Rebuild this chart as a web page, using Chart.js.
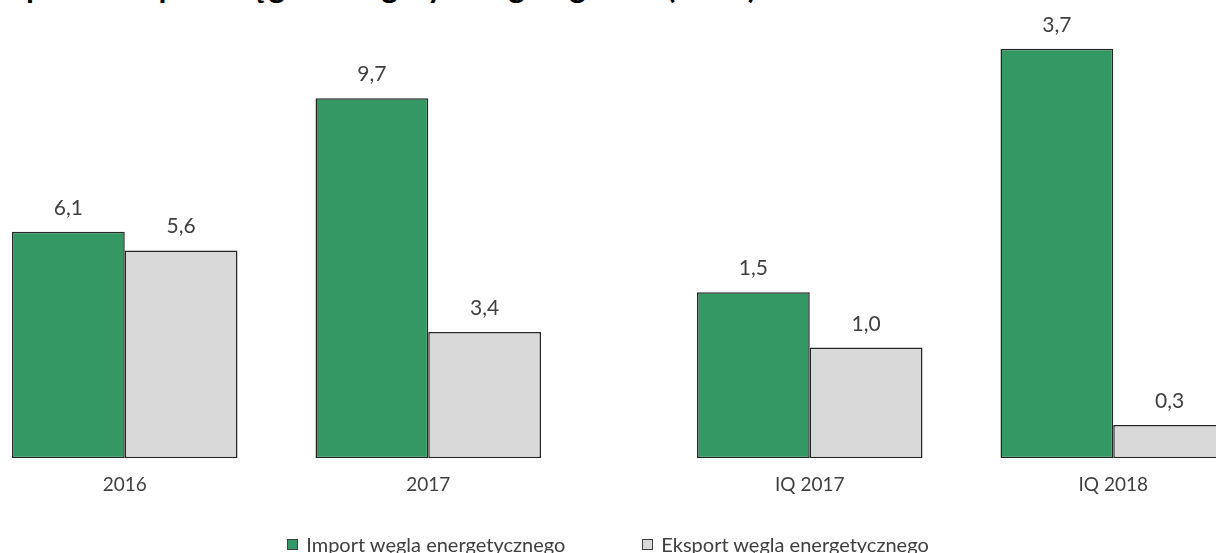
<!DOCTYPE html>
<html lang="pl">
<head>
<meta charset="utf-8">
<title>Import i eksport węgla energetycznego</title>
<script src="https://cdn.jsdelivr.net/npm/chart.js@4.4.1/dist/chart.umd.min.js"></script>
<style>
  html, body { margin: 0; padding: 0; background: #fff; }
  #page { position: relative; width: 1216px; height: 553px; overflow: hidden; }
  #title {
    position: absolute; left: -10px; top: -33px; margin: 0;
    font: bold 32px/38px Lato, sans-serif; color: #000; white-space: nowrap;
  }
  #yearsChart { position: absolute; left: -27px; top: 0; }
  #quartersChart { position: absolute; left: 658px; top: 0; }
  #legend {
    position: absolute; left: 0; top: 533px; width: 1216px;
    display: flex; justify-content: center; gap: 77px;
    font: 20px Lato, sans-serif; color: #404040; line-height: 22px;
  }
  .legend-item { display: flex; align-items: center; }
  .legend-box { width: 9px; height: 9px; border: 1px solid #404040; margin-right: 8px; }
</style>
</head>
<body>
<div id="page">
  <h2 id="title">Import i eksport węgla energetycznego ogółem (mln t)</h2>
  <canvas id="yearsChart" width="607" height="553"></canvas>
  <canvas id="quartersChart" width="607" height="553"></canvas>
  <div id="legend"></div>
</div>
<script>
// Periods and values (mln t)
const yearLabels = ["2016", "2017"];
const quarterLabels = ["IQ 2017", "IQ 2018"];
const importYear = [6.1, 9.7];
const exportYear = [5.6, 3.4];
const importQuarter = [1.5, 3.7];
const exportQuarter = [1.0, 0.3];
const seriesNames = ["Import węgla energetycznego", "Eksport węgla energetycznego"];

const IMPORT_COLOR = "#349865";
const EXPORT_COLOR = "#d9d9d9";
const BORDER_COLOR = "#262626";
const TEXT_COLOR = "#404040";
const FONT = "Lato";

// years and quarters have their own value scale (px per mln t differs)
const YEAR_MAX = 12.08;
const QUARTER_MAX = 4.05;

function formatValue(v) {
    return v.toFixed(1).replace(".", ",");
}

function barDataset(label, values, color) {
    return {
        label,
        data: values,
        backgroundColor: color,
        borderColor: BORDER_COLOR,
        borderWidth: 1.5,
        borderSkipped: false,
        categoryPercentage: 0.743,
        barPercentage: 1.0,
    };
}

// Value above every bar, with a decimal comma
const valueLabels = {
    id: "valueLabels",
    afterDatasetsDraw(chart) {
        const ctx = chart.ctx;
        ctx.save();
        ctx.font = `21px ${FONT}`;
        ctx.fillStyle = TEXT_COLOR;
        ctx.textAlign = "center";
        ctx.textBaseline = "alphabetic";
        chart.data.datasets.forEach((ds, i) => {
            chart.getDatasetMeta(i).data.forEach((bar, j) => {
                ctx.fillText(formatValue(ds.data[j]), bar.x, bar.y - 17);
            });
        });
        ctx.restore();
    }
};

// Legend shared by both charts, built as html under the canvases
const htmlLegend = {
    id: "htmlLegend",
    afterUpdate(chart) {
        const list = document.getElementById("legend");
        list.innerHTML = "";
        chart.options.plugins.legend.labels.generateLabels(chart).forEach(item => {
            const row = document.createElement("div");
            row.className = "legend-item";
            const box = document.createElement("span");
            box.className = "legend-box";
            box.style.background = item.fillStyle;
            const text = document.createElement("span");
            text.textContent = item.text;
            row.appendChild(box);
            row.appendChild(text);
            list.appendChild(row);
        });
    }
};

function createChart(canvasId, labels, importValues, exportValues, yMax, plugins) {
    return new Chart(document.getElementById(canvasId), {
        type: "bar",
        data: {
            labels,
            datasets: [
                barDataset(seriesNames[0], importValues, IMPORT_COLOR),
                barDataset(seriesNames[1], exportValues, EXPORT_COLOR),
            ]
        },
        options: {
            responsive: false,
            animation: false,
            devicePixelRatio: 1,
            layout: { padding: { top: 10, bottom: 42, left: 0, right: 0 } },
            scales: {
                x: {
                    grid: { display: false, drawTicks: false },
                    border: { display: false },
                    ticks: {
                        maxRotation: 0,
                        padding: 15,
                        color: TEXT_COLOR,
                        font: { family: FONT, size: 19 },
                    },
                },
                y: { display: false, min: 0, max: yMax },
            },
            plugins: {
                legend: { display: false },
                tooltip: { enabled: false },
            },
        },
        plugins,
    });
}

createChart("yearsChart", yearLabels, importYear, exportYear, YEAR_MAX, [valueLabels, htmlLegend]);
createChart("quartersChart", quarterLabels, importQuarter, exportQuarter, QUARTER_MAX, [valueLabels]);
</script>
</body>
</html>
